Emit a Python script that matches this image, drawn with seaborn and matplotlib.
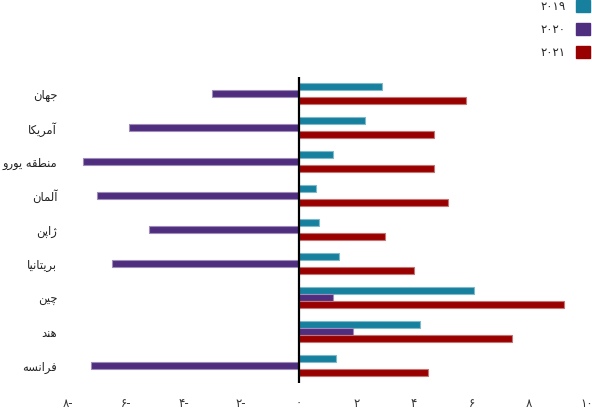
import matplotlib
matplotlib.use("Agg")
import matplotlib.pyplot as plt
from matplotlib.patches import Patch
import matplotlib.colors as mcolors
import pandas as pd
import seaborn as sns

# Données (FMI, rapport avril 2020)
countries = ["جهان", "آمریکا", "منطقه یورو", "آلمان", "ژاپن",
             "بریتانیا", "چین", "هند", "فرانسه"]
years = ["۲۰۱۹", "۲۰۲۰", "۲۰۲۱"]
growth_2019 = [2.9, 2.3, 1.2, 0.6, 0.7, 1.4, 6.1, 4.2, 1.3]
growth_2020 = [-3.0, -5.9, -7.5, -7.0, -5.2, -6.5, 1.2, 1.9, -7.2]
growth_2021 = [5.8, 4.7, 4.7, 5.2, 3.0, 4.0, 9.2, 7.4, 4.5]
x_ticks = [-8, -6, -4, -2, 0, 2, 4, 6, 8, 10]
colors = ["#17809f", "#4f2d7f", "#990000"]

# formes contextuelles (isolée, finale, initiale, médiane)
FORMS = {
    "ا": ("\uFE8D", "\uFE8E", None, None),
    "آ": ("\uFE81", "\uFE82", None, None),
    "ب": ("\uFE8F", "\uFE90", "\uFE91", "\uFE92"),
    "پ": ("\uFB56", "\uFB57", "\uFB58", "\uFB59"),
    "ت": ("\uFE95", "\uFE96", "\uFE97", "\uFE98"),
    "ج": ("\uFE9D", "\uFE9E", "\uFE9F", "\uFEA0"),
    "چ": ("\uFB7A", "\uFB7B", "\uFB7C", "\uFB7D"),
    "د": ("\uFEA9", "\uFEAA", None, None),
    "ر": ("\uFEAD", "\uFEAE", None, None),
    "ژ": ("\uFB8A", "\uFB8B", None, None),
    "س": ("\uFEB1", "\uFEB2", "\uFEB3", "\uFEB4"),
    "ط": ("\uFEC1", "\uFEC2", "\uFEC3", "\uFEC4"),
    "ف": ("\uFED1", "\uFED2", "\uFED3", "\uFED4"),
    "ق": ("\uFED5", "\uFED6", "\uFED7", "\uFED8"),
    "ک": ("\uFB8E", "\uFB8F", "\uFB90", "\uFB91"),
    "ل": ("\uFEDD", "\uFEDE", "\uFEDF", "\uFEE0"),
    "م": ("\uFEE1", "\uFEE2", "\uFEE3", "\uFEE4"),
    "ن": ("\uFEE5", "\uFEE6", "\uFEE7", "\uFEE8"),
    "ه": ("\uFEE9", "\uFEEA", "\uFEEB", "\uFEEC"),
    "و": ("\uFEED", "\uFEEE", None, None),
    "ی": ("\uFBFC", "\uFBFD", "\uFBFE", "\uFBFF"),
}


def shape(text):
    """Liaison des lettres persanes + ordre visuel de droite à gauche."""
    out = []
    for i, c in enumerate(text):
        if c not in FORMS:
            out.append(c)
            continue
        prev = text[i - 1] if i > 0 else None
        nxt = text[i + 1] if i + 1 < len(text) else None
        join_prev = prev in FORMS and FORMS[prev][2] is not None
        join_next = nxt in FORMS and FORMS[c][2] is not None
        iso, fin, ini, med = FORMS[c]
        if join_prev and join_next:
            out.append(med)
        elif join_prev:
            out.append(fin)
        elif join_next:
            out.append(ini)
        else:
            out.append(iso)
    return "".join(reversed(out))


def fa_num(v):
    s = str(abs(v)).translate(str.maketrans("0123456789", "۰۱۲۳۴۵۶۷۸۹"))
    return s + "-" if v < 0 else s


df = pd.DataFrame({
    "country": countries * 3,
    "year": [years[0]] * 9 + [years[1]] * 9 + [years[2]] * 9,
    "value": growth_2019 + growth_2020 + growth_2021,
})

sns.set_style("white")
plt.rcParams["font.family"] = ["DejaVu Sans"]

fig = plt.figure(figsize=(5.92, 4.12), dpi=100)
ax = fig.add_axes([0.1154, 0.0711, 0.8757, 0.7427])

sns.barplot(data=df, y="country", x="value", hue="year", order=countries,
            hue_order=years, palette=colors, saturation=1, orient="h",
            width=0.62, legend=False, ax=ax)

# bordure claire autour des barres
for p in ax.patches:
    fc = mcolors.to_rgb(p.get_facecolor())
    edge = tuple(0.55 * c + 0.45 for c in fc)
    p.set_edgecolor(edge)
    p.set_linewidth(0.8)

ax.axvline(0, color="black", lw=1.6)
ax.set_xlim(-8, 10)
ax.set_ylim(8.5, -0.5)
ax.set_xticks(x_ticks)
ax.set_xticklabels([fa_num(t) for t in x_ticks], fontsize=8.5, color="#333333")
ax.set_yticks(range(len(countries)))
ax.set_yticklabels([shape(c) for c in countries], fontsize=8.3, color="#222222")
ax.tick_params(axis="x", length=0, pad=10)
ax.tick_params(axis="y", length=0, pad=8)
ax.set_xlabel("")
ax.set_ylabel("")
sns.despine(ax=ax, left=True, bottom=True)

handles = [Patch(facecolor=c, edgecolor=c) for c in colors]
fig.legend(handles, years, loc="upper right", bbox_to_anchor=(590 / 592, 1.0),
           frameon=False, markerfirst=False, fontsize=8.5, handlelength=1.15,
           handleheight=1.15, handletextpad=0.9, labelspacing=0.85,
           borderpad=0, borderaxespad=0)

fig.savefig("out.png", dpi=100)
